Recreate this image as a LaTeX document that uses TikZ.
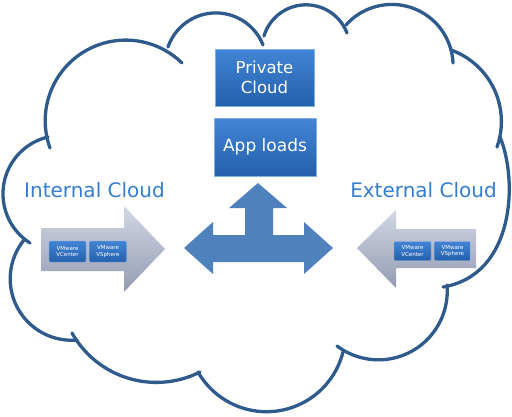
\documentclass[tikz,border=0pt]{standalone}
\usepackage{fontspec}
\setmainfont{DejaVu Sans}
\definecolor{cloudline}{RGB}{46,90,140}
\definecolor{labelblue}{RGB}{55,125,205}
\definecolor{boxtop}{RGB}{66,133,212}
\definecolor{boxbot}{RGB}{36,96,172}
\definecolor{boxedge}{RGB}{130,175,228}
\definecolor{arrowblue}{RGB}{79,129,189}
\definecolor{graytop}{RGB}{210,215,228}
\definecolor{graybot}{RGB}{148,156,178}
\tikzset{
  lobe/.style={draw=cloudline, line width=3.3pt, line cap=round},
  bluebox/.style={top color=boxtop, bottom color=boxbot, draw=boxedge, line width=0.8pt,
     text=white, align=center, inner sep=0pt},
  vmbox/.style={top color=boxtop, bottom color=boxbot, draw=boxedge, line width=0.4pt,
     rounded corners=1pt, text=white, align=center, inner sep=0pt,
     font=\fontsize{5.5}{6.5}\selectfont},
  cloudlabel/.style={text=labelblue, font=\fontsize{20}{24}\selectfont, inner sep=0pt},
  grayarrow/.style={top color=graytop, bottom color=graybot, draw=none},
}
% circular arc through three points (pixel coordinates, y downwards)
\newcommand\lobeArc[6]{%
  \pgfmathsetmacro\lbx{(#3-#1)/10}\pgfmathsetmacro\lby{(#4-#2)/10}%
  \pgfmathsetmacro\lcx{(#5-#1)/10}\pgfmathsetmacro\lcy{(#6-#2)/10}%
  \pgfmathsetmacro\ldd{2*(\lbx*\lcy-\lby*\lcx)}%
  \pgfmathsetmacro\lbb{\lbx*\lbx+\lby*\lby}%
  \pgfmathsetmacro\lcc{\lcx*\lcx+\lcy*\lcy}%
  \pgfmathsetmacro\lhh{(\lcy*\lbb-\lby*\lcc)/\ldd}%
  \pgfmathsetmacro\lkk{(\lbx*\lcc-\lcx*\lbb)/\ldd}%
  \pgfmathsetmacro\lrr{10*sqrt(\lhh*\lhh+\lkk*\lkk)}%
  \pgfmathsetmacro\lox{#1+10*\lhh}\pgfmathsetmacro\loy{#2+10*\lkk}%
  \pgfmathsetmacro\laA{atan2(-\lkk,-\lhh)}%
  \pgfmathsetmacro\laB{atan2(\lby-\lkk,\lbx-\lhh)}%
  \pgfmathsetmacro\laC{atan2(\lcy-\lkk,\lcx-\lhh)}%
  \pgfmathsetmacro\ldB{Mod(\laB-\laA,360)}%
  \pgfmathsetmacro\ldC{Mod(\laC-\laA,360)}%
  \pgfmathsetmacro\laE{\ldB<\ldC ? \laA+\ldC : \laA+\ldC-360}%
  \draw[lobe] plot[domain=\laA:\laE, samples=60, smooth] ({\lox+\lrr*cos(\x)},{\loy+\lrr*sin(\x)});%
}
\begin{document}
\begin{tikzpicture}[x=1pt,y=-1pt]
\useasboundingbox[fill=white] (0,0) rectangle (512,416);
% cloud lobes
\lobeArc{50}{148}{82}{53}{182}{63}
\lobeArc{168}{47}{213}{13}{263}{45}
\lobeArc{264}{36}{310}{5}{347}{33}
\lobeArc{346}{25}{400}{5}{453}{63}
\lobeArc{451}{50}{492}{85}{497}{147}
\draw[lobe] (500,137) .. controls (518,180) and (515,275) .. (443,287);
\lobeArc{447}{285}{417}{348}{337}{346}
\lobeArc{343}{352}{287}{409}{198}{372}
\lobeArc{200}{372}{140}{381}{72}{333}
\lobeArc{24}{240}{22}{315}{77}{340}
\lobeArc{48}{137}{3}{195}{30}{243}
% top boxes
\node[bluebox, minimum width=99pt, minimum height=57pt, font=\fontsize{16.5}{20}\selectfont] (priv) at (264.5,77.5) {Private\\Cloud};
\node[bluebox, minimum width=102pt, minimum height=58pt, font=\fontsize{17}{20}\selectfont] (app) at (265,147) {App loads};
% labels
\node[cloudlabel] (int) at (94.5,190) {Internal Cloud};
\node[cloudlabel] (ext) at (423.5,190) {External Cloud};
% three-way arrow
\fill[arrowblue] (184,248) -- (213,222) -- (213,235) -- (245,235) -- (245,208) -- (229,208)
  -- (258,183) -- (287,208) -- (273,208) -- (273,235) -- (304,235) -- (304,222) -- (333,248)
  -- (304,274) -- (304,262) -- (213,262) -- (213,274) -- cycle;
% gray arrows
\path[grayarrow] (41,228) -- (124,228) -- (124,206) -- (165,249) -- (124,292) -- (124,271) -- (41,271) -- cycle;
\path[grayarrow] (476,229) -- (396,229) -- (396,210) -- (357,248) -- (396,288) -- (396,268) -- (476,268) -- cycle;
% VMware boxes
\node[vmbox, minimum width=37pt, minimum height=21pt] (lvc) at (67.5,251.5) {VMware\\VCenter};
\node[vmbox, minimum width=37pt, minimum height=21pt] (lvs) at (108,251.5) {VMware\\VSphere};
\node[vmbox, minimum width=37pt, minimum height=19pt] (rvc) at (412.5,251) {VMware\\VCenter};
\node[vmbox, minimum width=36pt, minimum height=19pt] (rvs) at (452.5,251) {VMware\\VSphere};
\end{tikzpicture}
\end{document}
